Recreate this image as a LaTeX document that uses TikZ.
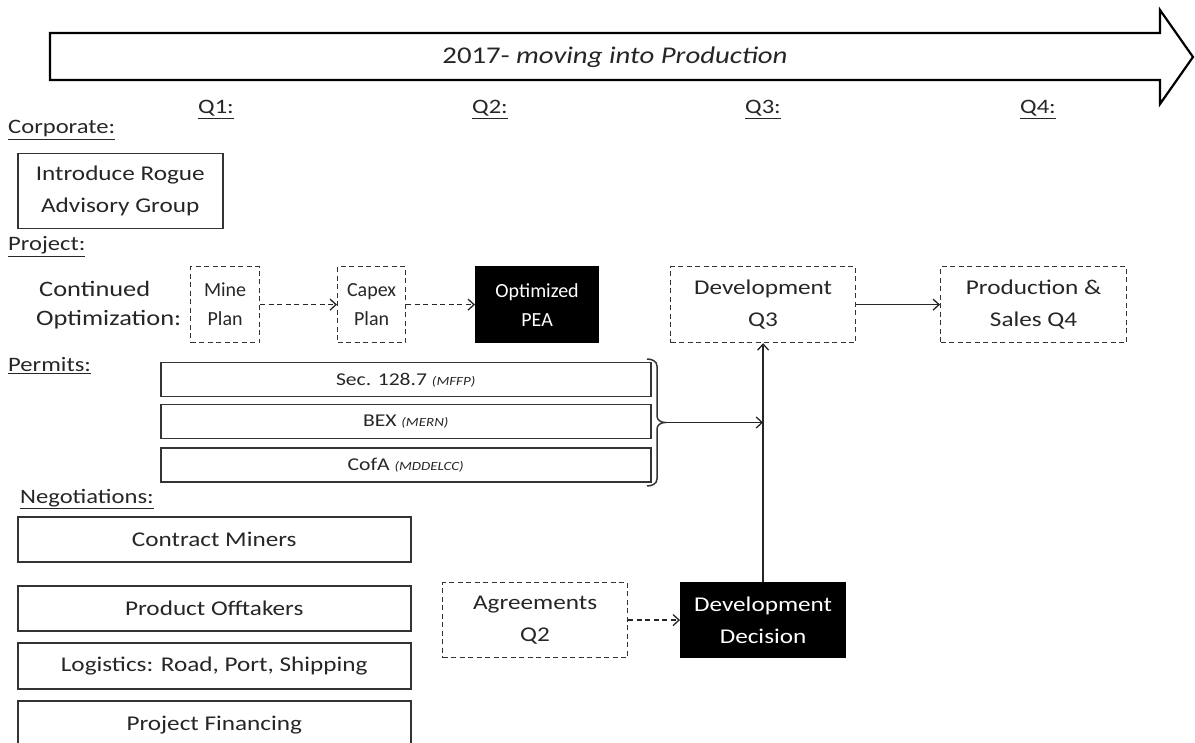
\documentclass[tikz,border=0pt]{standalone}
\usepackage{fontspec}
\setmainfont{Carlito}[FakeStretch=1.2]
\newfontfamily\plainfont{Carlito}
\usetikzlibrary{arrows.meta}
\begin{document}
\begin{tikzpicture}[x=1pt,y=-1pt,
  txt/.style={font=\fontsize{21}{32}\selectfont, text=black!85},
  stxt/.style={font=\plainfont\fontsize{20}{29}\selectfont},
  lbl/.style={font=\fontsize{20.5}{24}\selectfont, text=black!85, anchor=base west, inner sep=0},
  sbox/.style={draw, line width=1.5pt, draw=black!80, align=center, inner sep=0, anchor=north west, txt},
  dbox/.style={draw, line width=1.2pt, draw=black!80, dash pattern=on 5pt off 3.5pt, align=center, inner sep=0, anchor=north west, txt},
  bbox/.style={draw, fill=black, line width=1.2pt, align=center, inner sep=0, anchor=north west, txt, text=white},
  pbox/.style={draw, line width=1.5pt, draw=black!80, inner sep=0, anchor=north west, minimum width=490pt, minimum height=34pt, font=\fontsize{18}{20}\selectfont, text=black!85},
  conn/.style={line width=1.3pt, draw=black!85, -{Straight Barb[length=6pt,width=11pt,line width=1.3pt]}},
  dconn/.style={conn, dash pattern=on 5pt off 3.5pt}
]
\useasboundingbox (0,0) rectangle (1195,743);
% big arrow
\draw[line width=2.2pt, fill=white] (50,33) -- (1160,33) -- (1160,10) -- (1193,57) -- (1160,104) -- (1160,80) -- (50,80) -- cycle;
\node[font=\fontsize{24}{28}\selectfont, text=black!85] (title) at (615,57) {2017- \textit{moving into Production}};
\node[lbl, anchor=base] (q1) at (216,114) {\underline{Q1:}};
\node[lbl, anchor=base] (q2) at (490,114) {\underline{Q2:}};
\node[lbl, anchor=base] (q3) at (763,114) {\underline{Q3:}};
\node[lbl, anchor=base] (q4) at (1038,114) {\underline{Q4:}};
% headings
\node[lbl] (hcorp) at (8,134) {\underline{Corporate:}};
\node[lbl] (hproj) at (8,251) {\underline{Project:}};
\node[lbl] (hperm) at (8,372) {\underline{Permits:}};
\node[lbl] (hneg) at (20,503) {\underline{Negotiations:}};
% corporate
\node[sbox, minimum width=205pt, minimum height=75pt] (corp) at (17,153) {Introduce Rogue\\Advisory Group};
% project
\node[font=\fontsize{22}{29}\selectfont, text=black!85, align=left, anchor=west, inner sep=0] (cont) at (36,305) {\hspace{3pt}Continued\\Optimization:};
\node[dbox, stxt, minimum width=69pt, minimum height=76pt] (mine) at (190,266) {Mine\\Plan};
\node[dbox, stxt, minimum width=68pt, minimum height=76pt] (capex) at (337,266) {Capex\\Plan};
\node[bbox, stxt, minimum width=123pt, minimum height=76pt] (pea) at (475,266) {Optimized\\PEA};
\node[dbox, minimum width=185pt, minimum height=76pt] (dev) at (670,266) {Development\\Q3};
\node[dbox, minimum width=186pt, minimum height=76pt] (prod) at (940,266) {Production \&\\Sales Q4};
\draw[dconn] (mine) -- (capex);
\draw[dconn] (capex) -- (pea);
\draw[conn] (dev) -- (prod);
% permits
\node[pbox] (sec) at (160,362) {Sec. 128.7 {\fontsize{12.5}{14}\selectfont\itshape (MFFP)}};
\node[pbox] (bex) at (160,404) {BEX {\fontsize{12.5}{14}\selectfont\itshape (MERN)}};
\node[pbox] (cofa) at (160,447) {CofA {\fontsize{12.5}{14}\selectfont\itshape (MDDELCC)}};
\draw[line width=1.5pt, draw=black!80] (647,359) to[out=0,in=90] (657,366) -- (657,416) to[out=-90,in=180] (665,422.5) to[out=180,in=90] (657,429) -- (657,479) to[out=-90,in=0] (647,486);
\coordinate (tip) at (665,422.5);
% negotiations
\node[sbox, minimum width=393pt, minimum height=45pt] (cm) at (17,516) {Contract Miners};
\node[sbox, minimum width=393pt, minimum height=45pt] (po) at (17,585) {Product Offtakers};
\node[sbox, minimum width=393pt, minimum height=46pt] (log) at (17,642) {Logistics: Road, Port, Shipping};
\node[sbox, minimum width=393pt, minimum height=60pt] (fin) at (17,700) {\raisebox{15pt}{Project Financing}};
\node[dbox, minimum width=185pt, minimum height=75pt] (agr) at (442,582) {Agreements\\Q2};
\node[bbox, minimum width=165pt, minimum height=75pt] (dd) at (680,582) {Development\\Decision};
\draw[dconn] (agr) -- (dd);
\draw[conn] (dd.north -| dev.south) -- (dev.south);
\draw[conn] (tip) -- (tip -| dev.south);
\end{tikzpicture}
\end{document}
